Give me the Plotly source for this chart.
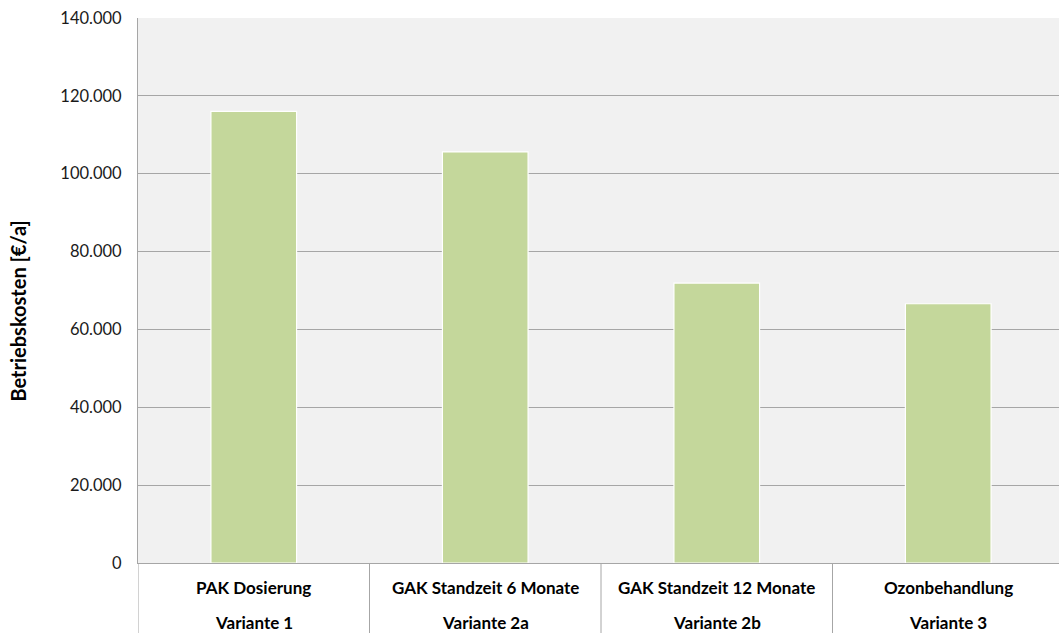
import plotly.graph_objects as go

# Annual operating costs per treatment variant
verfahren = ["PAK Dosierung", "GAK Standzeit 6 Monate", "GAK Standzeit 12 Monate", "Ozonbehandlung"]
varianten = ["Variante 1", "Variante 2a", "Variante 2b", "Variante 3"]
betriebskosten = [116000, 105600, 71900, 66600]
y_ticks = [0, 20000, 40000, 60000, 80000, 100000, 120000, 140000]
y_ticklabels = ["0", "20.000", "40.000", "60.000", "80.000", "100.000", "120.000", "140.000"]

W, H = 1059, 633
M_L, M_R, M_T, M_B = 138, 0, 18, 70
FONT = "Lato"
GRID = "#a6a6a6"

idx = list(range(len(verfahren)))

fig = go.Figure(
    go.Bar(
        x=idx,
        y=betriebskosten,
        width=0.37,
        marker=dict(color="#c4d79b", line=dict(color="#ffffff", width=1.2)),
        hoverinfo="skip",
    )
)

plot_h = H - M_T - M_B
band = -M_B / plot_h  # paper y of the bottom of the category label band

# Category separators in the label band
shapes = []
for i in range(len(verfahren)):
    xb = i - 0.5
    shapes.append(dict(type="line", xref="x", yref="paper", x0=xb, x1=xb, y0=band, y1=0,
                       line=dict(color=GRID, width=1)))

# Two-line category labels
annotations = []
for i, (v, n) in enumerate(zip(verfahren, varianten)):
    annotations.append(dict(x=i, y=0, xref="x", yref="paper", text=f"<b>{v}</b>", showarrow=False,
                            yshift=-24, font=dict(family=FONT, size=17, color="#000000"),
                            xanchor="center", yanchor="middle"))
    annotations.append(dict(x=i, y=0, xref="x", yref="paper", text=f"<b>{n}</b>", showarrow=False,
                            yshift=-59, font=dict(family=FONT, size=17, color="#000000"),
                            xanchor="center", yanchor="middle"))

# Y-axis title
annotations.append(dict(x=0, y=0.5, xref="paper", yref="paper", text="<b>Betriebskosten [€/a]</b>",
                        showarrow=False, textangle=-90, xshift=-121, yshift=-21,
                        font=dict(family=FONT, size=20, color="#000000"),
                        xanchor="center", yanchor="middle"))

fig.update_layout(
    width=W,
    height=H,
    margin=dict(l=M_L, r=M_R, t=M_T, b=M_B, pad=0),
    paper_bgcolor="#ffffff",
    plot_bgcolor="#f1f1f1",
    showlegend=False,
    shapes=shapes,
    annotations=annotations,
    xaxis=dict(
        range=[-0.5, -0.5 + (W - M_L - M_R) / 231.5],
        tickvals=idx,
        showticklabels=False,
        showgrid=False,
        zeroline=False,
        showline=True,
        linecolor=GRID,
        linewidth=1,
        fixedrange=True,
    ),
    yaxis=dict(
        range=[0, 140000],
        tickvals=y_ticks,
        ticktext=y_ticklabels,
        showgrid=True,
        gridcolor=GRID,
        gridwidth=1,
        zeroline=False,
        showline=True,
        linecolor=GRID,
        linewidth=1,
        ticks="",
        ticklabelstandoff=12,
        tickfont=dict(family=FONT, size=16.5, color="#1a1a1a"),
        fixedrange=True,
    ),
)

fig.write_html("out.html", config={"displayModeBar": False})
